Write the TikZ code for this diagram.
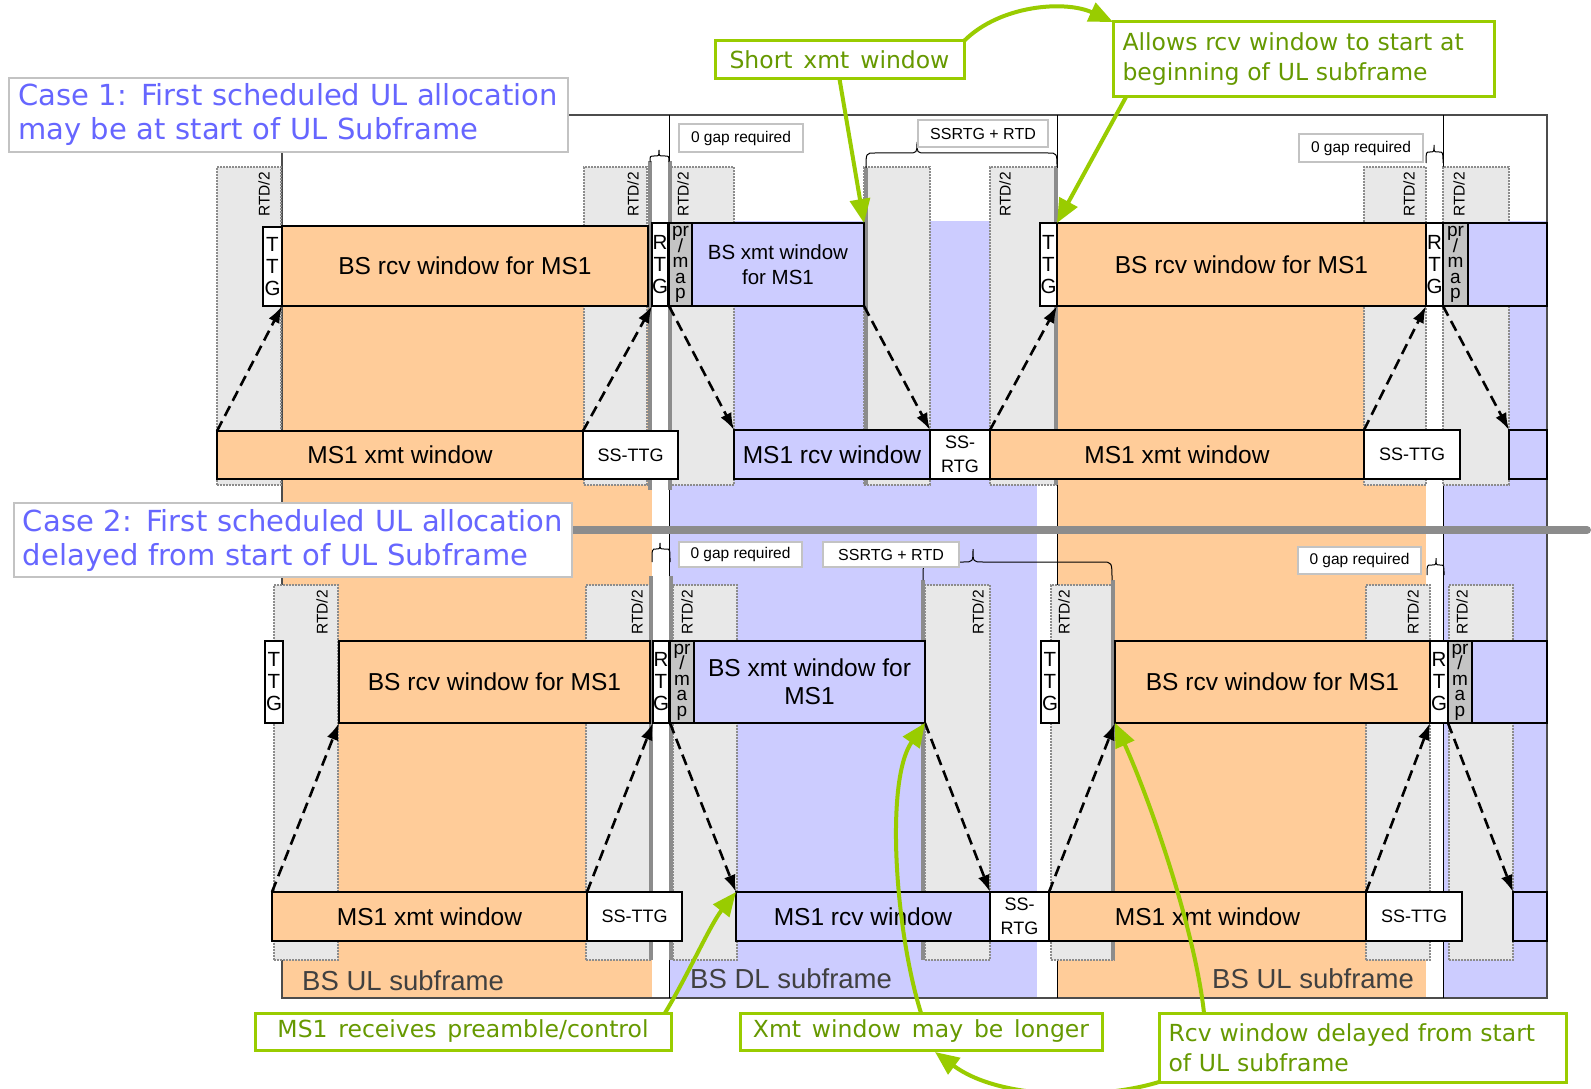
\documentclass[tikz,border=0pt]{standalone}
\usepackage{fontspec}
\setmainfont{Liberation Sans}
\newfontfamily\vfont[WordSpace=1.52]{DejaVu Sans}
\newfontfamily\gfont[WordSpace=1.45]{DejaVu Sans}
\usetikzlibrary{arrows.meta,calc}
\definecolor{ulo}{RGB}{255,204,153}
\definecolor{dlb}{RGB}{204,204,255}
\definecolor{rtdg}{RGB}{232,232,232}
\definecolor{rtdb}{RGB}{140,140,140}
\definecolor{thgc}{RGB}{140,140,140}
\definecolor{pmg}{RGB}{196,196,196}
\definecolor{grn}{RGB}{153,204,0}
\definecolor{grnt}{RGB}{102,153,0}
\definecolor{cblue}{RGB}{102,102,255}
\definecolor{lblg}{RGB}{195,195,195}
\definecolor{subt}{RGB}{64,64,64}
\newcommand\fBig{\fontsize{24.5}{29}\selectfont}
\newcommand\fMid{\fontsize{20.5}{25}\selectfont}
\newcommand\fMidB{\fontsize{24.5}{28}\selectfont}
\newcommand\fStk{\fontsize{20.5}{22}\selectfont\lineskiplimit=-50pt}
\newcommand\fPm{\fontsize{19}{15.5}\selectfont\lineskiplimit=-50pt}
\newcommand\fSm{\fontsize{15.5}{18}\selectfont}
\newcommand\fSmB{\fontsize{16}{18}\selectfont}
\newcommand\fSs{\fontsize{18}{24}\selectfont\lineskiplimit=-50pt}
\newcommand\fSub{\fontsize{27.5}{32}\selectfont}
\newcommand\fCase{\vfont\fontsize{29}{34}\selectfont}
\newcommand\fGrn{\gfont\fontsize{23.5}{30}\selectfont}
% box: style, name, x1, y1, x2, y2, text
\newcommand\bx[7]{\node[#1, minimum width={(#5-#3)*1pt}, minimum height={(#6-#4)*1pt}] (#2) at ({(#3+#5)/2},{(#4+#6)/2}) {#7};}
\newcommand\mybrace[7]{%
  \draw[sBrc] (#1,#4) .. controls (#1,#5) .. ({#1+#7},#5) -- ({#3-#7},#5)
    .. controls (#3,#5) .. (#3,#6) .. controls (#3,#5) .. ({#3+#7},#5)
    -- ({#2-#7},#5) .. controls (#2,#5) .. (#2,#4);}
\tikzset{
  sWin/.style={draw=black, line width=1.2pt, inner sep=0pt, outer sep=0pt},
  sUL/.style={sWin, fill=ulo, font=\fBig},
  sDL/.style={sWin, fill=dlb, font=\fBig},
  sGap/.style={sWin, fill=white, font=\fStk, align=center},
  sSS/.style={sWin, fill=white, font=\fSs, align=center},
  sPm/.style={sWin, fill=pmg, font=\fPm, align=center},
  sRtd/.style={fill=rtdg, draw=rtdb, line width=2.5pt, dash pattern=on 2pt off 1pt, inner sep=0pt, outer sep=0pt},
  sRtdL/.style={rotate=90, font=\fSm, inner sep=0pt},
  sThg/.style={draw=thgc, line width=4pt},
  sBrc/.style={draw=black, line width=1pt},
  sLbl/.style={draw=lblg, line width=1.5pt, fill=white, font=\fSm, inner sep=0pt, outer sep=0pt},
  sDar/.style={draw=black, line width=2.6pt, dash pattern=on 11pt off 6pt, -{Latex[length=17pt,width=12pt]}},
  sGbox/.style={draw=grn, line width=3pt, fill=white, text=grnt, font=\fGrn, inner sep=0pt, outer sep=0pt},
  sGar/.style={draw=grn, line width=4pt, -{Triangle[length=24pt,width=20pt]}},
  sSub/.style={text=subt, font=\fSub, inner sep=0pt, anchor=base west},
  sCase/.style={draw=lblg, line width=1.5pt, fill=white, text=cblue, font=\fCase, inner sep=0pt, outer sep=0pt, align=left},
  sThin/.style={draw=black, line width=1pt}
}
\begin{document}
\begin{tikzpicture}[x=1pt,y=-1pt]
\useasboundingbox (0,0) rectangle (1591,1089);
\fill[white] (0,0) rectangle (1591,1089);
% backgrounds
\fill[ulo] (282,226) rectangle (652,998);
\fill[dlb] (669,221) rectangle (1037,998);
\fill[ulo] (1057,223) rectangle (1426,998);
\fill[dlb] (1443,221) rectangle (1547,998);
% frame and boundaries
\draw[draw=gray!60!black, line width=1.5pt] (282,115) rectangle (1547,998);
\draw[sThin] (669,115) -- (669,998);
\draw[sThin] (1057,115) -- (1057,998);
\draw[sThin] (1443,115) -- (1443,998);
% RTD/2 boxes case 1
\bx{sRtd}{rA1}{217}{167}{281}{485}{}
\bx{sRtd}{rB1}{584}{167}{647}{485}{}
\bx{sRtd}{rC1}{669}{167}{734}{485}{}
\bx{sRtd}{rG1}{864}{167}{930}{485}{}
\bx{sRtd}{rD1}{990}{167}{1056}{485}{}
\bx{sRtd}{rE1}{1364}{167}{1426}{485}{}
\bx{sRtd}{rF1}{1443}{167}{1509}{485}{}
% RTD/2 boxes case 2
\bx{sRtd}{rA2}{274}{585}{338}{960}{}
\bx{sRtd}{rB2}{586}{585}{650}{960}{}
\bx{sRtd}{rC2}{673}{585}{737}{960}{}
\bx{sRtd}{rD2}{925}{585}{990}{960}{}
\bx{sRtd}{rE2}{1051}{585}{1114}{960}{}
\bx{sRtd}{rF2}{1366}{585}{1430}{960}{}
\bx{sRtd}{rG2}{1449}{585}{1513}{960}{}
% RTD labels
\node[sRtdL] (lA1) at (264,194.5) {RTD/2};
\node[sRtdL] (lB1) at (633,194.5) {RTD/2};
\node[sRtdL] (lC1) at (683,194.5) {RTD/2};
\node[sRtdL] (lD1) at (1005,194.5) {RTD/2};
\node[sRtdL] (lE1) at (1409,194.5) {RTD/2};
\node[sRtdL] (lF1) at (1459,194.5) {RTD/2};
\node[sRtdL] (lA2) at (322,612.5) {RTD/2};
\node[sRtdL] (lB2) at (637,612.5) {RTD/2};
\node[sRtdL] (lC2) at (687,612.5) {RTD/2};
\node[sRtdL] (lD2) at (978,612.5) {RTD/2};
\node[sRtdL] (lE2) at (1064,612.5) {RTD/2};
\node[sRtdL] (lF2) at (1413,612.5) {RTD/2};
\node[sRtdL] (lG2) at (1462,612.5) {RTD/2};
% thick gray lines
\draw[sThg] (650,161) -- (650,490);
\draw[sThg] (670,161) -- (670,490);
\draw[sThg] (866,168) -- (866,485);
\draw[sThg] (1056,168) -- (1056,485);
\draw[sThg] (651,576) -- (651,960);
\draw[sThg] (671,576) -- (671,960);
\draw[sThg] (923,580) -- (923,960);
\draw[sThg] (1113,580) -- (1113,960);
% braces
\mybrace{650}{669}{659}{162}{156}{150}{4}
\mybrace{866}{1057}{917}{168}{153}{142}{9}
\mybrace{1426}{1443}{1434}{163}{152}{145}{4}
\mybrace{652}{670}{660}{562}{549}{543}{4}
\mybrace{923}{1112}{973}{580}{562}{549}{10}
\mybrace{1427}{1444}{1436}{575}{565}{558}{4}
% brace labels
\bx{sLbl}{g0A}{679}{124}{803}{152}{0 gap required}
\bx{sLbl, font=\fSmB}{srA}{918}{120}{1048}{147}{SSRTG + RTD}
\bx{sLbl}{g0B}{1299}{134}{1423}{162}{0 gap required}
\bx{sLbl}{g0C}{679}{542}{802}{567}{0 gap required}
\bx{sLbl, font=\fSmB}{srC}{823}{542}{959}{567}{SSRTG + RTD}
\bx{sLbl}{g0D}{1298}{547}{1421}{574}{0 gap required}
% case 1 BS row
\bx{sGap}{ttgA}{263}{227}{282}{306}{T\\T\\G}
\bx{sUL}{bsrA}{282}{226}{648}{306}{BS rcv window for MS1}
\bx{sGap}{rtgA}{652}{223}{668}{306}{R\\T\\G}
\bx{sPm}{pmA}{669}{223}{692}{306}{pr\\/\\m\\a\\p}
\bx{sDL, font=\fMid, align=center}{bsxA}{692}{223}{864}{306}{BS xmt window\\for MS1}
\bx{sGap}{ttgB}{1040}{223}{1057}{306}{T\\T\\G}
\bx{sUL}{bsrB}{1057}{223}{1426}{306}{BS rcv window for MS1}
\bx{sGap}{rtgB}{1426}{223}{1443}{306}{R\\T\\G}
\bx{sPm}{pmB}{1443}{223}{1468}{306}{pr\\/\\m\\a\\p}
\bx{sDL}{bsxB}{1468}{223}{1547}{306}{}
% case 1 MS row
\bx{sUL}{msxA}{217}{431}{583}{479}{MS1 xmt window}
\bx{sSS}{sstA}{583}{431}{678}{479}{SS-TTG}
\bx{sDL}{msrA}{734}{430}{930}{479}{MS1 rcv window}
\bx{sSS}{ssrA}{930}{430}{990}{479}{SS-\\RTG}
\bx{sUL}{msxB}{990}{430}{1364}{479}{MS1 xmt window}
\bx{sSS}{sstB}{1364}{430}{1460}{479}{SS-TTG}
\bx{sDL}{msrB}{1509}{430}{1547}{479}{}
% case 2 BS row
\bx{sGap}{ttgC}{265}{641}{283}{723}{T\\T\\G}
\bx{sUL}{bsrC}{339}{641}{650}{723}{BS rcv window for MS1}
\bx{sGap}{rtgC}{653}{641}{669}{723}{R\\T\\G}
\bx{sPm}{pmC}{670}{641}{694}{723}{pr\\/\\m\\a\\p}
\bx{sDL, font=\fMidB, align=center}{bsxC}{694}{641}{925}{723}{BS xmt window for\\MS1}
\bx{sGap}{ttgD}{1041}{641}{1059}{723}{T\\T\\G}
\bx{sUL}{bsrD}{1115}{641}{1430}{723}{BS rcv window for MS1}
\bx{sGap}{rtgD}{1430}{641}{1448}{723}{R\\T\\G}
\bx{sPm}{pmD}{1448}{641}{1472}{723}{pr\\/\\m\\a\\p}
\bx{sDL}{bsxD}{1472}{641}{1547}{723}{}
% case 2 MS row
\bx{sUL}{msxC}{272}{892}{587}{941}{MS1 xmt window}
\bx{sSS}{sstC}{587}{892}{682}{941}{SS-TTG}
\bx{sDL}{msrC}{736}{892}{990}{941}{MS1 rcv window}
\bx{sSS}{ssrC}{990}{892}{1049}{941}{SS-\\RTG}
\bx{sUL}{msxD}{1049}{892}{1366}{941}{MS1 xmt window}
\bx{sSS}{sstD}{1366}{892}{1462}{941}{SS-TTG}
\bx{sDL}{msrD}{1513}{892}{1547}{941}{}
% dashed propagation arrows
\draw[sDar] (msxA.north west) -- (bsrA.south west);
\draw[sDar] (sstA.north west) -- (rtgA.south west);
\draw[sDar] (pmA.south west) -- (msrA.north west);
\draw[sDar] (bsxA.south east) -- (ssrA.north west);
\draw[sDar] (msxB.north west) -- (bsrB.south west);
\draw[sDar] (sstB.north west) -- (rtgB.south west);
\draw[sDar] (pmB.south west) -- (msrB.north west);
\draw[sDar] (msxC.north west) -- (bsrC.south west);
\draw[sDar] (sstC.north west) -- (rtgC.south west);
\draw[sDar] (pmC.south west) -- (msrC.north west);
\draw[sDar] (bsxC.south east) -- (ssrC.north west);
\draw[sDar] (msxD.north west) -- (bsrD.south west);
\draw[sDar] (sstD.north west) -- (rtgD.south west);
\draw[sDar] (pmD.south west) -- (msrD.north west);
% subframe labels
\node[sSub] (sUL1) at (302,990) {BS UL subframe};
\node[sSub] (sDL1) at (690,988) {BS DL subframe};
\node[sSub] (sUL2) at (1212,988) {BS UL subframe};
% divider
\draw[line width=8pt, draw=thgc, line cap=round] (560,530) -- (1587,530);
% case labels
\bx{sCase, text width=541pt}{case1}{9}{78}{568}{152}{\mbox{Case 1: First scheduled UL allocation}\\\mbox{may be at start of UL Subframe}}
\bx{sCase, text width=540pt}{case2}{14}{503}{572}{577}{\mbox{Case 2: First scheduled UL allocation}\\\mbox{delayed from start of UL Subframe}}
% green callouts
\bx{sGbox}{gShort}{715}{41}{964}{79}{Short xmt window}
\bx{sGbox, text width=362pt, align=left}{gAllow}{1113}{22}{1494}{97}{Allows rcv window to start at\\beginning of UL subframe}
\bx{sGbox}{gMs}{255}{1013}{671}{1050}{MS1 receives preamble/control}
\bx{sGbox}{gXmt}{740}{1013}{1102}{1050}{Xmt window may be longer}
\bx{sGbox, text width=388pt, align=left}{gRcv}{1159}{1013}{1566}{1082}{Rcv window delayed from start\\of UL subframe}
% green arrows
\draw[sGar] (gShort.south) -- (bsxA.north east);
\draw[sGar] ($(gAllow.south west)+(13,0)$) -- (bsrB.north west);
\draw[sGar] (gShort.north east) .. controls (1000,5) and (1065,0) .. (gAllow.north west);
\draw[sGar] ($(gMs.north east)+(-6,0)$) .. controls (688,975) and (710,925) .. (msrC.north west);
\draw[sGar] (gXmt.north) .. controls (895,930) and (885,780) .. (bsxC.south east);
\draw[sGar] ($(gRcv.north west)+(45,0)$) .. controls (1195,930) and (1150,800) .. (bsrD.south west);
\draw[sGar] (gRcv.south west) .. controls (1100,1100) and (1000,1100) .. ($(gXmt.south)+(14,2)$);
\end{tikzpicture}
\end{document}
